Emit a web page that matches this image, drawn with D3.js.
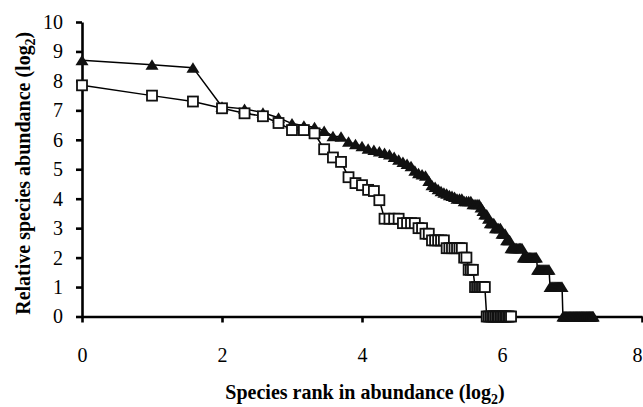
<!DOCTYPE html>
<meta charset="utf-8">
<body style="margin:0;background:#fff">
<script src="https://cdn.jsdelivr.net/npm/d3@7/dist/d3.min.js"></script>
<div id="my_dataviz"></div>
</body>

<script>

// log2 abundance levels in rank order, and how many species sit at each level
var triangleLevels = [8.7, 8.55, 8.45, 7.12, 7.05, 6.92, 6.75, 6.55, 6.48, 6.43,
  6.3, 6.12, 6.1, 5.93, 5.85, 5.78, 5.7, 5.65, 5.6, 5.55,
  5.5, 5.42, 5.32, 5.25, 5.18, 5.1, 4.95, 4.86, 4.82, 4.78,
  4.6, 4.46, 4.4, 4.32, 4.25, 4.2, 4.17, 4.12, 4.09, 4.06,
  4.0, 3.91, 3.81, 3.7, 3.585, 3.46, 3.32, 3.17, 3.0, 2.81,
  2.585, 2.32, 2.0, 1.585, 1.0, 0];
var triangleSpecies = [1, 1, 1, 1, 1, 1, 1, 1, 1, 1,
  1, 1, 1, 1, 1, 1, 1, 1, 1, 1,
  1, 1, 1, 1, 1, 1, 1, 1, 1, 1,
  1, 1, 1, 1, 1, 1, 1, 1, 1, 1,
  3, 4, 4, 1, 1, 2, 1, 3, 4, 3,
  3, 9, 12, 12, 14, 42];

var squareLevels = [7.85, 7.5, 7.3, 7.07, 6.9, 6.8, 6.57, 6.33, 6.33, 6.22,
  5.68, 5.4, 5.25, 4.73, 4.53, 4.46, 4.3, 4.26, 3.95,
  3.32, 3.17, 3.0, 2.81, 2.585, 2.32, 2.0, 1.585, 1.0, 0];
var squareSpecies = [1, 1, 1, 1, 1, 1, 1, 1, 1, 1,
  1, 1, 1, 1, 1, 1, 1, 1, 1,
  4, 4, 2, 2, 5, 7, 2, 3, 6, 16];

var xTicks = [0, 2, 4, 6, 8];
var yTicks = [0, 1, 2, 3, 4, 5, 6, 7, 8, 9, 10];

// expand the levels into one point per rank, x = log2(rank)
function toPoints(levels, species) {
  var pts = [], rank = 0;
  levels.forEach(function(v, i) {
    for (var j = 0; j < species[i]; j++) {
      rank++;
      pts.push({x: Math.log2(rank), y: v});
    }
  });
  return pts;
}
var triangles = toPoints(triangleLevels, triangleSpecies);
var squares = toPoints(squareLevels, squareSpecies);

var W = 643, H = 407;
var margin = {top: 22, right: 1, bottom: 90.5, left: 82},
    width = W - margin.left - margin.right,
    height = H - margin.top - margin.bottom;

var svg = d3.select("#my_dataviz")
  .append("svg")
    .attr("width", W)
    .attr("height", H)
    .style("display", "block")
  .append("g")
    .attr("transform", "translate(" + margin.left + "," + margin.top + ")");

var x = d3.scaleLinear().domain([0, 8]).range([0, width]);
var y = d3.scaleLinear().domain([0, 10]).range([height, 0]);

var font = "'Liberation Serif', 'Times New Roman', serif";

// axes
var xAxis = svg.append("g")
  .attr("transform", "translate(0," + height + ")")
  .call(d3.axisBottom(x).tickValues(xTicks).tickSize(6).tickSizeOuter(0));
var yAxis = svg.append("g")
  .call(d3.axisLeft(y).tickValues(yTicks).tickSize(6).tickSizeOuter(0).tickPadding(13));

[xAxis, yAxis].forEach(function(a) {
  a.select(".domain").attr("stroke", "#000").attr("stroke-width", 2.6);
  a.selectAll(".tick line").attr("stroke", "#000").attr("stroke-width", 2.6);
  a.selectAll(".tick text")
    .attr("fill", "#000")
    .style("font-family", font)
    .style("font-size", "20px");
});
xAxis.selectAll(".tick text").attr("y", 31);
// last label sits on the right edge, keep it inside the page
xAxis.selectAll(".tick text").filter(function(d) { return d === 8 }).attr("x", -5);

// lines
var line = d3.line().x(function(d) { return x(d.x) }).y(function(d) { return y(d.y) });

svg.append("path")
  .datum(triangles)
  .attr("d", line)
  .attr("fill", "none")
  .attr("stroke", "#000")
  .attr("stroke-width", 1.5);

svg.selectAll(".tri")
  .data(triangles)
  .join("path")
    .attr("class", "tri")
    .attr("d", "M0,-5.5L6.5,5L-6.5,5Z")
    .attr("transform", function(d) { return "translate(" + x(d.x) + "," + y(d.y) + ")" })
    .attr("fill", "#111");

svg.append("path")
  .datum(squares)
  .attr("d", line)
  .attr("fill", "none")
  .attr("stroke", "#000")
  .attr("stroke-width", 1.5);

svg.selectAll(".sq")
  .data(squares)
  .join("rect")
    .attr("class", "sq")
    .attr("x", function(d) { return x(d.x) - 5 })
    .attr("y", function(d) { return y(d.y) - 5 })
    .attr("width", 10)
    .attr("height", 10)
    .attr("fill", "#fff")
    .attr("stroke", "#111")
    .attr("stroke-width", 1.8);

// axis titles
var xt = svg.append("text")
  .attr("x", 283)
  .attr("y", height + 82)
  .attr("text-anchor", "middle")
  .style("font-family", font)
  .style("font-size", "20px")
  .style("font-weight", "bold")
  .text("Species rank in abundance (log");
xt.append("tspan").attr("dy", 5).style("font-size", "14px").text("2");
xt.append("tspan").attr("dy", -5).text(")");

var yt = svg.append("text")
  .attr("transform", "translate(-52," + (height / 2 + 4) + ") rotate(-90)")
  .attr("text-anchor", "middle")
  .style("font-family", font)
  .style("font-size", "20px")
  .style("font-weight", "bold")
  .text("Relative species abundance (log");
yt.append("tspan").attr("dy", 5).style("font-size", "14px").text("2");
yt.append("tspan").attr("dy", -5).text(")");

</script>
